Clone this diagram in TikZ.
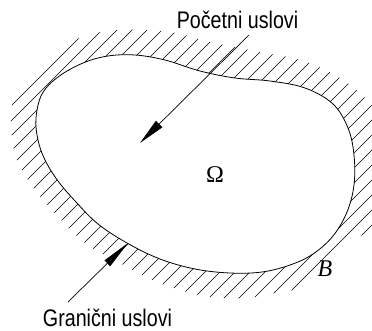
\documentclass[tikz,border=0pt]{standalone}
\usepackage{fontspec}
\usepackage{tikz}
\usetikzlibrary{arrows.meta}

\newfontfamily\narrowsans[FakeStretch=0.82]{Liberation Sans}
\newfontfamily\timesfont{Liberation Serif}

% boundary of the domain and outer edge of the hatching
\newcommand\domainpath{plot[smooth cycle,tension=0.6] coordinates {(36,118) (42,94) (58,77) (83,63) (108,56) (135,55) (165,60) (200,71) (235,78) (270,81) (305,88) (333,104) (348,128) (354,155) (354,185) (347,212) (333,236) (313,254) (290,265) (262,272) (230,273) (195,269) (160,259) (127,243) (98,224) (76,202) (58,181) (45,160) (38,140)}}
\newcommand\hatchbound{plot[smooth cycle,tension=0.6] coordinates {(12,105) (28,76) (52,55) (82,37) (120,30) (170,32) (210,42) (260,52) (300,60) (335,75) (365,98) (385,130) (390,200) (375,225) (350,243) (325,262) (305,286) (280,292) (245,298) (210,297) (180,290) (150,279) (120,263) (85,243) (52,210) (28,180) (14,150)}}

\begin{document}
\begin{tikzpicture}[x=1pt,y=-1pt,
    labeltext/.style={font=\narrowsans\fontsize{24}{28}\selectfont,anchor=base,inner sep=0pt,text depth=0pt},
    symtext/.style={font=\timesfont\fontsize{24}{28}\selectfont,anchor=base,inner sep=0pt},
    hatch/.style={line width=0.6pt},
    cond/.style={-{Triangle[length=27pt,width=9pt]},line width=0.7pt}]
  \useasboundingbox (0,0) rectangle (372,330);

  % hatching outside the domain
  \begin{scope}[even odd rule]
    \clip \hatchbound \domainpath;
    \foreach \c in {12,27,...,732}
      \draw[hatch] (\c,0) -- (\c-330,330);
  \end{scope}
  \draw[line width=0.8pt] \domainpath;

  \node[symtext] (omega) at (215,182) {Ω};
  \node[symtext,font=\timesfont\itshape\fontsize{24}{28}\selectfont] (bnd) at (325,276) {B};

  \node[labeltext] (pocetni) at (237.5,28) {Početni uslovi};
  \node[labeltext] (granicni) at (107.5,326) {Granični uslovi};

  \coordinate (pocStart) at (249,35);
  \coordinate (pocTip) at (140,143);
  \coordinate (graStart) at (68,302);
  \coordinate (graTip) at (128,243);

  \draw[cond] (pocStart) -- (pocTip);
  \draw[cond,-{Triangle[length=29pt,width=8pt]}] (graStart) -- (graTip);
\end{tikzpicture}
\end{document}
